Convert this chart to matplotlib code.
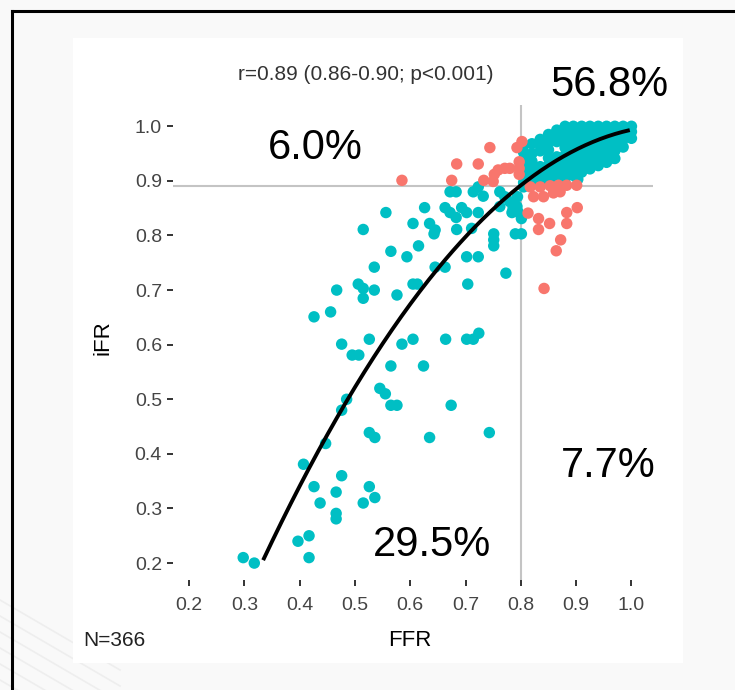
import matplotlib.pyplot as plt
from matplotlib.lines import Line2D
from matplotlib.patches import Rectangle
import numpy as np

# FFR / iFR pairs
teal_low = [(0.298, 0.210), (0.318, 0.200), (0.397, 0.240), (0.417, 0.250), (0.417, 0.210),
            (0.407, 0.381), (0.426, 0.340), (0.437, 0.310), (0.466, 0.330), (0.466, 0.291),
            (0.466, 0.281), (0.476, 0.360), (0.515, 0.310), (0.526, 0.340), (0.536, 0.320),
            (0.447, 0.419), (0.476, 0.480), (0.485, 0.500), (0.526, 0.439), (0.536, 0.430),
            (0.635, 0.430), (0.743, 0.439), (0.545, 0.520), (0.555, 0.510), (0.565, 0.489),
            (0.576, 0.489), (0.674, 0.489), (0.565, 0.561), (0.624, 0.561), (0.476, 0.601),
            (0.495, 0.581), (0.507, 0.581), (0.526, 0.610), (0.585, 0.601), (0.605, 0.610),
            (0.664, 0.610), (0.702, 0.610), (0.714, 0.610), (0.724, 0.621), (0.426, 0.651),
            (0.456, 0.660)]

teal_mid = [(0.467, 0.700), (0.506, 0.711), (0.515, 0.703), (0.515, 0.685), (0.535, 0.700),
            (0.535, 0.742), (0.515, 0.811), (0.556, 0.842), (0.565, 0.771), (0.594, 0.761),
            (0.576, 0.691), (0.605, 0.822), (0.615, 0.781), (0.605, 0.711), (0.613, 0.711),
            (0.626, 0.851), (0.635, 0.822), (0.645, 0.810), (0.643, 0.803), (0.645, 0.742),
            (0.663, 0.742), (0.663, 0.851), (0.672, 0.880), (0.683, 0.880), (0.672, 0.842),
            (0.683, 0.833), (0.693, 0.851), (0.702, 0.842), (0.684, 0.811), (0.711, 0.813),
            (0.723, 0.842), (0.702, 0.761), (0.723, 0.761), (0.704, 0.711), (0.714, 0.880),
            (0.723, 0.889), (0.732, 0.872), (0.751, 0.803), (0.751, 0.792), (0.751, 0.781),
            (0.762, 0.880), (0.771, 0.871), (0.780, 0.862), (0.762, 0.853), (0.784, 0.842),
            (0.793, 0.853), (0.801, 0.831), (0.790, 0.803), (0.801, 0.803), (0.773, 0.731),
            (0.805, 0.889), (0.795, 0.843), (0.786, 0.850), (0.794, 0.871), (0.903, 0.903)]

teal_cluster = [(0.805, 0.897), (0.805, 0.910), (0.805, 0.924), (0.805, 0.938), (0.805, 0.952), (0.805, 0.965),
                (0.820, 0.895), (0.820, 0.908), (0.820, 0.922), (0.820, 0.936), (0.820, 0.950), (0.820, 0.968),
                (0.835, 0.897), (0.835, 0.912), (0.835, 0.926), (0.835, 0.955), (0.835, 0.969), (0.835, 0.976),
                (0.850, 0.899), (0.850, 0.913), (0.850, 0.928), (0.850, 0.942), (0.850, 0.957), (0.850, 0.971),
                (0.850, 0.985), (0.865, 0.901), (0.865, 0.915), (0.865, 0.930), (0.865, 0.944), (0.865, 0.972),
                (0.865, 0.986), (0.865, 0.993), (0.880, 0.905), (0.880, 0.919), (0.880, 0.933), (0.880, 0.947),
                (0.880, 0.961), (0.880, 0.975), (0.880, 0.989), (0.880, 1.000), (0.895, 0.910), (0.895, 0.924),
                (0.895, 0.938), (0.895, 0.952), (0.895, 0.966), (0.895, 0.980), (0.895, 0.993), (0.895, 1.000),
                (0.910, 0.916), (0.910, 0.930), (0.910, 0.944), (0.910, 0.958), (0.910, 0.972), (0.910, 0.986),
                (0.910, 1.000), (0.925, 0.922), (0.925, 0.936), (0.925, 0.950), (0.925, 0.964), (0.925, 0.978),
                (0.925, 0.992), (0.925, 1.000), (0.940, 0.928), (0.940, 0.942), (0.940, 0.956), (0.940, 0.970),
                (0.940, 0.984), (0.940, 1.000), (0.955, 0.934), (0.955, 0.948), (0.955, 0.962), (0.955, 0.976),
                (0.955, 0.990), (0.955, 1.000), (0.970, 0.941), (0.970, 0.955), (0.970, 0.969), (0.970, 0.983),
                (0.970, 0.995), (0.970, 1.000), (0.985, 0.962), (0.985, 0.976), (0.985, 0.990), (0.985, 1.000),
                (1.000, 0.978), (1.000, 0.990), (1.000, 1.000), (0.962, 0.941)]

red_points = [(0.585, 0.901), (0.675, 0.901), (0.684, 0.931), (0.723, 0.931), (0.733, 0.901),
              (0.744, 0.961), (0.750, 0.899), (0.752, 0.912), (0.759, 0.920), (0.771, 0.923),
              (0.780, 0.923), (0.793, 0.961), (0.802, 0.972), (0.797, 0.935), (0.797, 0.923),
              (0.797, 0.912), (0.813, 0.841), (0.823, 0.871), (0.841, 0.871), (0.817, 0.889),
              (0.835, 0.889), (0.853, 0.891), (0.868, 0.892), (0.883, 0.892), (0.901, 0.892),
              (0.859, 0.878), (0.871, 0.880), (0.832, 0.831), (0.852, 0.822), (0.832, 0.811),
              (0.883, 0.842), (0.883, 0.822), (0.902, 0.851), (0.872, 0.792), (0.864, 0.772),
              (0.842, 0.703)]

# points
fit_ffr = [0.334, 0.389, 0.447, 0.485, 0.533, 0.588, 0.639, 0.708, 0.771, 0.832, 0.892, 0.952, 0.997]
fit_ifr = [0.210, 0.321, 0.419, 0.500, 0.578, 0.657, 0.718, 0.798, 0.877, 0.926, 0.956, 0.978, 0.987]

ticks = [0.2, 0.3, 0.4, 0.5, 0.6, 0.7, 0.8, 0.9, 1.0]
ffr_cut = 0.8
ifr_cut = 0.89
quadrant_labels = ['56.8%', '6.0%', '7.7%', '29.5%']

TEAL = '#00BFC4'
RED = '#F8766D'

W, H = 735, 690
fig = plt.figure(figsize=(W / 100, H / 100), dpi=100)
fig.patch.set_facecolor('#f9f9f9')


def fx(px):
    return px / W


def fy(py):
    return 1 - py / H


# faint slide background streaks in the lower left
for k in range(7):
    y0 = 600 + k * 16
    fig.add_artist(Line2D([fx(0), fx(120)], [fy(y0), fy(y0 + 70)], color='#eeeeee',
                          lw=1.2, transform=fig.transFigure, zorder=-3))

fig.add_artist(Rectangle((fx(73), fy(663)), (683 - 73) / W, (663 - 38) / H, transform=fig.transFigure,
                         facecolor='white', edgecolor='none', zorder=-2))

# slide frame (left and top edges visible)
fig.add_artist(Line2D([fx(12), fx(12)], [0, fy(11)], color='black', lw=2.2,
                      transform=fig.transFigure, zorder=5))
fig.add_artist(Line2D([fx(12), 1], [fy(11), fy(11)], color='black', lw=2.2,
                      transform=fig.transFigure, zorder=5))

ax = fig.add_axes([fx(173), fy(580), (653 - 173) / W, (580 - 105) / H])
ax.set_facecolor('none')

ax.axhline(ifr_cut, color='#c4c4c4', lw=1.5, zorder=1)
ax.axvline(ffr_cut, color='#c4c4c4', lw=1.5, zorder=1)

teal = np.array(teal_low + teal_mid + teal_cluster)
red = np.array(red_points)
ax.scatter(teal[:, 0], teal[:, 1], s=68, color=TEAL, edgecolors='none', zorder=2)
ax.scatter(red[:, 0], red[:, 1], s=68, color=RED, edgecolors='none', zorder=3)

coef = np.polyfit(fit_ffr, fit_ifr, 2)
xs = np.linspace(min(fit_ffr), max(fit_ffr), 200)
ax.plot(xs, np.polyval(coef, xs), color='black', lw=2.8, zorder=4, solid_capstyle='butt')

ax.set_xlim(0.171, 1.039)
ax.set_ylim(0.169, 1.039)
ax.set_xticks(ticks)
ax.set_yticks(ticks)
ax.set_xticklabels([f'{t:.1f}' for t in ticks])
ax.set_yticklabels([f'{t:.1f}' for t in ticks])
for s in ax.spines.values():
    s.set_visible(False)
ax.tick_params(axis='both', length=4, width=1.4, color='#333333', labelcolor='#444444',
               labelsize=14, pad=4)
ax.tick_params(axis='x', pad=8)
for lab in ax.get_xticklabels() + ax.get_yticklabels():
    lab.set_family('Liberation Sans')

font = 'Liberation Sans'
fig.text(fx(366), fy(75), 'r=0.89 (0.86-0.90; p<0.001)', ha='center', va='center',
         fontsize=15, color='#333333', family=font)
fig.text(fx(410), fy(640), 'FFR', ha='center', va='center', fontsize=16, family=font)
fig.text(fx(103), fy(338), 'iFR', ha='center', va='center', rotation=90, fontsize=16, family=font)
fig.text(fx(83), fy(640), 'N=366', ha='left', va='center', fontsize=15, color='#222222', family=font)

label_pos = [(609, 85), (315, 148), (608, 466), (432, 545)]
for txt, (px, py) in zip(quadrant_labels, label_pos):
    fig.text(fx(px), fy(py), txt, ha='center', va='center', fontsize=30, family=font)

fig.savefig('out.png', dpi=100, facecolor=fig.get_facecolor())
